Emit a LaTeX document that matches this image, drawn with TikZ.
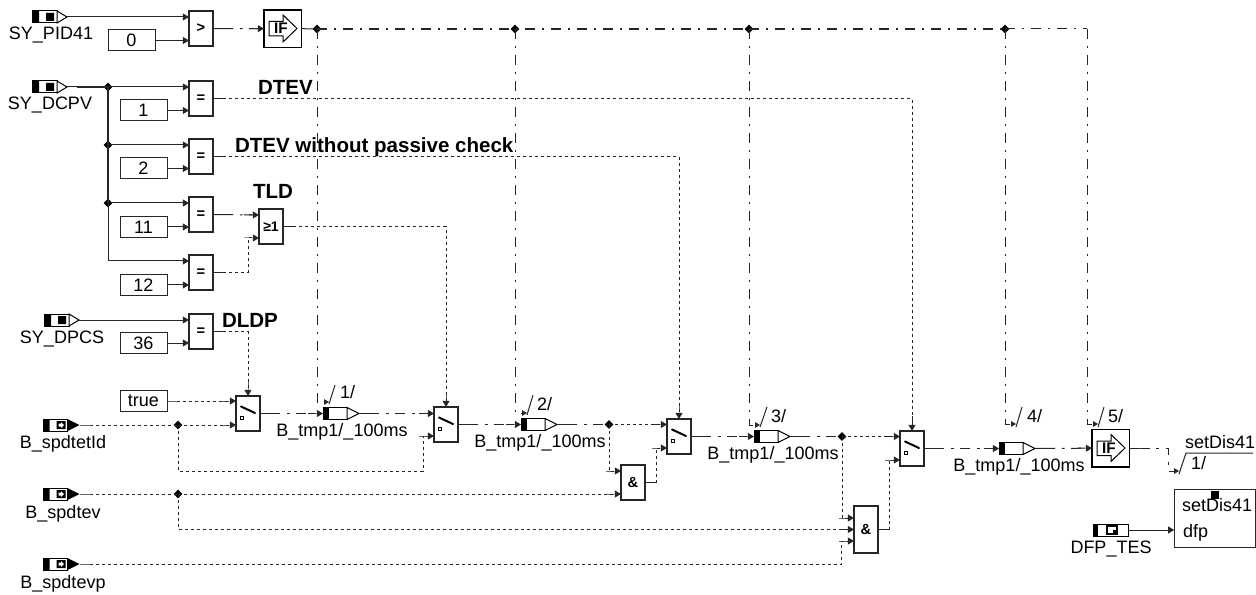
\documentclass[tikz,border=0pt]{standalone}
\usepackage{fontspec}
\setmainfont{Liberation Sans}
\usetikzlibrary{arrows.meta,shapes.geometric}
\newcommand\lbl{\fontsize{13.5}{15}\selectfont}
\newcommand\bigbold{\fontsize{15.4}{17}\selectfont\bfseries}
\tikzset{
 x=0.75pt,y=-0.75pt,
 every node/.style={font=\lbl,inner sep=0pt,outer sep=0pt},
 wire/.style={line width=0.75pt,draw=black!85},
 boo/.style={wire,dash pattern=on 2.4pt off 2.1pt},
 ctl/.style={wire,dash pattern=on 7.5pt off 5pt on 2pt off 5pt},
 ctlthick/.style={line width=1.4pt,dash pattern=on 7.5pt off 5pt on 2pt off 5pt},
 tA/.tip={Rectangle[length=7pt,width=0.75pt]Stealth[length=4.6pt,width=5.2pt,inset=0pt]},
 tQ/.tip={Stealth[length=3.6pt,width=4pt,inset=0pt]},
 tS/.tip={Rectangle[length=8pt,width=0.75pt]},
 blk/.style={draw=black!85,line width=0.85pt,fill=white,anchor=north west,minimum width=18pt,font=\fontsize{11}{12}\selectfont\bfseries},
 gate/.style={blk,minimum height=26.25pt},
 konst/.style={draw=black!85,line width=0.75pt,fill=white,anchor=north west,minimum width=35.25pt,minimum height=15.75pt},
 jn/.style={diamond,fill=black,minimum size=6.5pt},
 pbox/.style={anchor=west,minimum height=9pt},
 blab/.style={font=\bigbold,anchor=base west},
 base/.style={anchor=base},
 basew/.style={anchor=base west},
}
% SY_ style port
\newcommand\portA[3]{\begin{scope}[shift={(#2,#3)}]
 \node[pbox,minimum width=26.25pt] (#1) at (0,0) {};
 \draw[line width=.75pt,fill=white] (0,-6) rectangle (25,6);
 \fill (0,-6) rectangle (7,6) (14,-4) rectangle (22,4);
 \draw[line width=.75pt,fill=white] (25,-6) -- (35,0) -- (25,6) -- cycle;
\end{scope}}
% B_ style port
\newcommand\portB[3]{\begin{scope}[shift={(#2,#3)}]
 \node[pbox,minimum width=27pt] (#1) at (0,0) {};
 \draw[line width=.75pt,fill=white] (0,-6) rectangle (24,6);
 \fill (0,-6) rectangle (6,6) (13,-4) rectangle (22,4);
 \fill[white] (15,-1.5) rectangle (17.5,1.5) (17.5,-3) -- (20.5,0) -- (17.5,3) -- cycle;
 \fill (24,-6) -- (36,0) -- (24,6) -- cycle;
\end{scope}}
% register
\newcommand\reg[3]{\begin{scope}[shift={(#2,#3)}]
 \node[pbox,minimum width=27pt] (#1) at (0,0) {};
 \draw[line width=.75pt,fill=white] (0,-6) rectangle (24,6);
 \fill (0,-6) rectangle (6,6);
 \draw[line width=.75pt,fill=white] (24,-6) -- (36,0) -- (24,6) -- cycle;
\end{scope}}
% switch
\newcommand\sw[3]{
 \node[gate] (#1) at (#2,#3) {};
 \begin{scope}[shift={(#2,#3)}]
 \draw[line width=1.5pt,line cap=round] (5,10.5) -- (19,17);
 \draw[line width=.75pt] (4.5,20.5) rectangle (7.5,23.5);
 \coordinate (#1a) at (0,5);
 \coordinate (#1b) at (0,29);
 \end{scope}}
% IF block
\newcommand\ifblk[3]{
 \node[draw=black,line width=1pt,fill=white,anchor=north west,minimum width=28pt,minimum height=28pt] (#1) at (#2,#3) {};
 \begin{scope}[shift={(#2,#3)}]
 \draw[line width=.75pt] (5,11.5) -- (19,11.5) -- (19,5) -- (33,18.5) -- (19,32) -- (19,26) -- (5,26) -- cycle;
 \node[font=\fontsize{11.5}{12}\selectfont\bfseries] at (17,18.5) {IF};
 \end{scope}}
\begin{document}
\begin{tikzpicture}
\useasboundingbox (0,0) rectangle (1256,595);

% ---------- connectors first ----------
\node[jn] (j1) at (317,29) {};
\node[jn] (j2) at (515,29) {};
\node[jn] (j3) at (749,29) {};
\node[jn] (j4) at (1005,29) {};
\coordinate (topc) at (1087,29);
\node[jn] (d1) at (108,87) {};
\node[jn] (d2) at (108,145) {};
\node[jn] (d3) at (108,203) {};
\coordinate (d4) at (108,261);
\node[jn] (jt) at (178,425) {};
\node[jn] (jv) at (178,494) {};
\node[jn] (j5) at (609,424.5) {};
\node[jn] (j6) at (842,436.5) {};
\coordinate (s1) at (329,402);
\coordinate (s2) at (527,413);
\coordinate (s3) at (760,425);
\coordinate (s4) at (1016,424);
\coordinate (s5) at (1098,424);
\coordinate (so) at (1179,471);
\coordinate (bar0) at (1186,453);
\coordinate (bar1) at (1253,453);

% ---------- blocks ----------
\portA{pid}{32}{17}
\portA{dcpv}{32}{87}
\portA{dpcs}{44}{320}
\portB{tetid}{43.5}{425}
\portB{tev}{43.5}{494}
\portB{tevp}{43.5}{564}

\node[gate] (gt) at (189,11) {>};
\node[konst] (k0) at (108,30) {0};
\ifblk{if1}{264}{10}
\node[gate] (eq1) at (189,81) {=};
\node[konst] (k1) at (120,100) {1};
\node[gate] (eq2) at (189,139) {=};
\node[konst] (k2) at (120,158) {2};
\node[gate] (eq3) at (189,197) {=};
\node[konst] (k11) at (120,216.5) {11};
\node[gate] (eq4) at (189,255) {=};
\node[konst] (k12) at (120,274.5) {12};
\node[gate] (eq5) at (189,314) {=};
\node[konst] (k36) at (120,332.5) {36};
\node[gate,font=\fontsize{10.5}{12}\selectfont\bfseries] (ge) at (259,209) {≥1};
\node[konst] (ktrue) at (120,390.5) {true};

\sw{sw1}{236}{396}
\sw{sw2}{434}{407}
\sw{sw3}{667}{419}
\sw{sw4}{900}{431}
\reg{r1}{323}{413.5}
\reg{r2}{521}{424.5}
\reg{r3}{754}{436.5}
\reg{r4}{999}{448.5}
\ifblk{if2}{1092}{429.5}
\node[gate] (and1) at (621,465) {\&};
\node[blk,minimum height=35.25pt] (and2) at (854,506) {\&};
\coordinate (gea) at (259,215);
\coordinate (geb) at (259,238);
\coordinate (a1a) at (621,471);
\coordinate (a2a) at (854,518);
\coordinate (a2c) at (854,541);

\node[draw=black!85,line width=.75pt,fill=white,anchor=north west,minimum width=60.75pt,minimum height=43.5pt] (sd) at (1174.2,489) {};
\fill (1211,491) rectangle (1219,499);
\begin{scope}[shift={(1093,530)}]
 \node[pbox,minimum width=26.25pt] (dfp) at (0,0) {};
 \draw[line width=.75pt,fill=white] (0,-6) rectangle (35,6);
 \fill (0,-6) rectangle (5,6);
 \draw[line width=.9pt] (14,-4) rectangle (24,4);
 \fill (20,0) rectangle (24,4);
\end{scope}

% ---------- connectors ----------
\draw[wire,-{tA}] (pid.east) -- (pid.east -| gt.west);
\draw[wire,-{tA}] (k0.east) -- (k0.east -| gt.west);
\draw[ctl,{tS}-{tA}] (gt.east) -- (if1.west);
\draw[wire] (if1.east) -- (j1.center);
\draw[ctl,ctlthick] (j1.center) -- (j2.center) -- (j3.center);
\draw[ctl,line width=1pt] (j3.center) -- (j4.center);
\draw[ctl] (j4.center) -- (topc);
\draw[ctl,-{tQ}] (j1.center) |- (s1);
\draw[ctl,-{tQ}] (j2.center) |- (s2);
\draw[ctl,-{tQ}] (j3.center) |- (s3);
\draw[ctl,-{tQ}] (j4.center) |- (s4);
\draw[ctl,-{tQ}] (topc) |- (s5);

\draw[wire,line width=1.5pt] (dcpv.east) ++(10,0) -- (d1.center);
\draw[wire] (dcpv.east) -- (d1.center);
\draw[wire,line width=1.5pt] (d1.center) -- (d2.center) -- (d3.center);
\draw[wire,-{tA}] (d1.center) -- (d1.center -| eq1.west);
\draw[wire,-{tA}] (d2.center) -- (d2.center -| eq2.west);
\draw[wire,-{tA}] (d3.center) -- (d3.center -| eq3.west);
\draw[wire,-{tA}] (d3.center) -- (d4) -- (d4 -| eq4.west);
\draw[wire,-{tA}] (k1.east) -- (k1.east -| eq1.west);
\draw[wire,-{tA}] (k2.east) -- (k2.east -| eq2.west);
\draw[wire,-{tA}] (k11.east) -- (k11.east -| eq3.west);
\draw[wire,-{tA}] (k12.east) -- (k12.east -| eq4.west);
\draw[wire,-{tA}] (k36.east) -- (k36.east -| eq5.west);
\draw[wire,-{tA}] (dpcs.east) -- (dpcs.east -| eq5.west);

\draw[boo,{tS}-{tA}] (eq1.east) -| (sw4.north);
\draw[boo,{tS}-{tA}] (eq2.east) -| (sw3.north);
\draw[ctl,{tS}-{tA}] (eq3.east) -- (gea);
\draw[boo,{tS}-{tA}] (eq4.east) -- ++(35,0) |- (geb);
\draw[boo,{tS}-{tA}] (ge.east) -| (sw2.north);
\draw[boo,{tS}-{tA}] (eq5.east) -| (sw1.north);

\draw[boo,{tS}-{tA}] (ktrue.east) -- (ktrue.east -| sw1.west);
\draw[boo,{tS}-] (tetid.east) -- (jt.center);
\draw[boo,-{tA}] (jt.center) -- (sw1b);
\draw[boo,-{tA}] (jt.center) -- ++(0,46) -- ++(245,0) |- (sw2b);
\draw[boo,{tS}-] (tev.east) -- (jv.center);
\draw[boo,-{tA}] (jv.center) -- (jv.center -| and1.west);
\draw[boo,-{tA}] (jv.center) |- (and2.west);
\draw[boo,{tS}-{tA}] (tevp.east) -- ++(762,0) |- (a2c);

\draw[ctl,{tS}-{tA}] (sw1.east) -- (r1.west);
\draw[ctl,{tS}-{tA}] (r1.east) -- (r1.east -| sw2.west);
\draw[ctl,{tS}-{tA}] (sw2.east) -- (r2.west);
\draw[ctl,{tS}-] (r2.east) -- (j5.center);
\draw[boo,-{tA}] (j5.center) -- (j5.center -| sw3.west);
\draw[boo,-{tA}] (j5.center) |- (a1a);
\draw[ctl,{tS}-{tA}] (sw3.east) -- (r3.west);
\draw[ctl,{tS}-] (r3.east) -- (j6.center);
\draw[boo,-{tA}] (j6.center) -- (j6.center -| sw4.west);
\draw[boo,-{tA}] (j6.center) |- (a2a);
\draw[ctl,{tS}-{tA}] (sw4.east) -- (r4.west);
\draw[ctl,{tS}-{tA}] (r4.east) -- (if2.west);
\draw[boo,{tS}-{tA}] (and1.east) -- ++(11,0) |- (sw3b);
\draw[boo,{tS}-{tA}] (and2.east) -- ++(11,0) |- (sw4b);
\draw[ctl,{tS}-{tQ}] (if2.east) -- ++(39,0) |- (so);
\draw[wire,-{tA}] (dfp.east) -- (dfp.east -| sd.west);

% sequence slashes
\draw[wire] (329,404) -- (335,385);
\draw[wire] (527,415) -- (533,395);
\draw[wire] (760,427) -- (767,407);
\draw[wire] (1016,427) -- (1022,407);
\draw[wire] (1098,427) -- (1104,407);
\draw[wire] (1179,474) -- (bar0) -- (bar1);

% ---------- labels ----------
\node[base] (t1) at (51,40) {SY\_PID41};
\node[base] (t2) at (50,110) {SY\_DCPV};
\node[base] (t3) at (62,343) {SY\_DPCS};
\node[base] (t4) at (63,448) {B\_spdtetId};
\node[base] (t5) at (63,518) {B\_spdtev};
\node[base] (t6) at (63,588) {B\_spdtevp};
\node[blab] (b1) at (258,95) {DTEV};
\node[blab] (b2) at (235,153) {DTEV without passive check};
\node[blab] (b3) at (253,199) {TLD};
\node[blab] (b4) at (222,327) {DLDP};
\node[base] (q1) at (342,436) {B\_tmp1/\_100ms};
\node[base] (q2) at (540,447.5) {B\_tmp1/\_100ms};
\node[base] (q3) at (773,459.5) {B\_tmp1/\_100ms};
\node[base] (q4) at (1019,471) {B\_tmp1/\_100ms};
\node[basew] (n1) at (340,398) {1/};
\node[basew] (n2) at (537,410) {2/};
\node[basew] (n3) at (771,422) {3/};
\node[basew] (n4) at (1027,422) {4/};
\node[basew] (n5) at (1108,422) {5/};
\node[base] (o1) at (1220,448) {setDis41};
\node[basew] (o2) at (1191,469) {1/};
\node[basew] (x1) at (1182,511) {setDis41};
\node[basew] (x2) at (1183,537) {dfp};
\node[base] (x3) at (1111,553) {DFP\_TES};
\end{tikzpicture}
\end{document}
